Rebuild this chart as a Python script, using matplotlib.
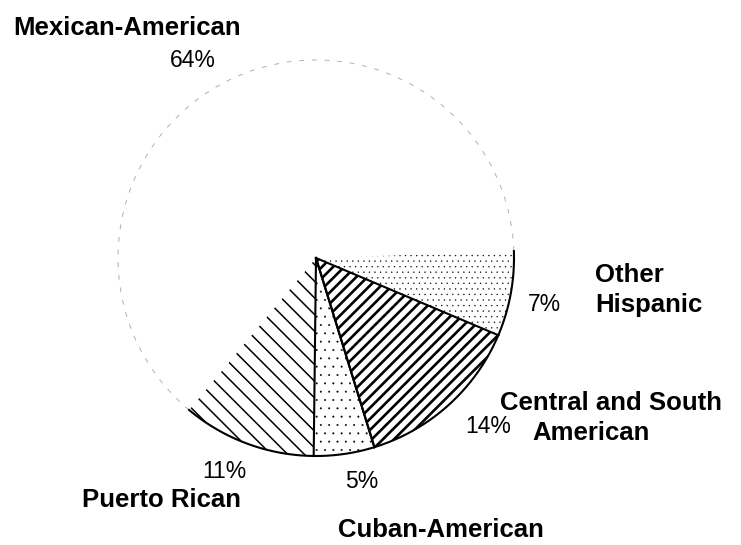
import numpy as np
import matplotlib
matplotlib.use('Agg')
import matplotlib.pyplot as plt

# ---- data (clockwise from 3 o'clock) ----
categories = ['Other Hispanic', 'Central and South American', 'Cuban-American',
              'Puerto Rican', 'Mexican-American']
shares = [7, 14, 5, 11, 64]
pct_labels = ['7%', '14%', '5%', '11%', '64%']
hatches = ['...', '///', '..', '\\\\', '']

W, H = 741, 545
fig = plt.figure(figsize=(W / 100, H / 100), dpi=100)
ax = fig.add_axes([0, 0, 1, 1])

cx, cy, R = 316, H - 258, 198
wedges, _ = ax.pie(shares, startangle=2, counterclock=False, center=(cx, cy),
                   radius=R, colors=['white'] * len(shares), hatch=hatches,
                   wedgeprops=dict(edgecolor='black', linewidth=0))

hatch_lw = [0.2, 1.9, 0.2, 1.1, 0.5]
for w, lw in zip(wedges, hatch_lw):
    try:
        w.set_hatch_linewidth(lw)
    except AttributeError:
        w._hatch_linewidth = lw


def arc(w, **kw):
    t = np.radians(np.linspace(w.theta1, w.theta2, 200))
    ax.plot(w.center[0] + w.r * np.cos(t), w.center[1] + w.r * np.sin(t), **kw)


def radial(w, ang, **kw):
    a = np.radians(ang)
    ax.plot([w.center[0], w.center[0] + w.r * np.cos(a)],
            [w.center[1], w.center[1] + w.r * np.sin(a)], **kw)


# outlines
for i, w in enumerate(wedges):
    if categories[i] == 'Mexican-American':
        arc(w, color='#b0b0b0', lw=0.7, ls=(0, (5, 8)), zorder=3)
    else:
        arc(w, color='black', lw=1.5, zorder=4)
for i in (1, 2):
    radial(wedges[i], wedges[i].theta1, color='black', lw=1.5, zorder=4)
    radial(wedges[i], wedges[i].theta2, color='black', lw=1.5, zorder=4)

ax.set_xlim(0, W)
ax.set_ylim(0, H)
ax.set_aspect('equal')
ax.axis('off')

fam = 'Liberation Sans'
bold_kw = dict(family=fam, fontweight='bold', fontsize=18.5, va='baseline', ha='left')
pct_kw = dict(family=fam, fontsize=16.5, va='baseline', ha='left')

# category names (x, baseline y in pixel coords)
ax.text(13, H - 35, 'Mexican-American', **bold_kw)
ax.text(595, H - 282, 'Other', **bold_kw)
ax.text(595, H - 312, 'Hispanic', **bold_kw)
ax.text(500, H - 410, 'Central and South', **bold_kw)
ax.text(532, H - 440, 'American', **bold_kw)
ax.text(82, H - 507, 'Puerto Rican', **bold_kw)
ax.text(338, H - 537, 'Cuban-American', **bold_kw)

# percentages
pct_pos = {'Other Hispanic': (528, 311), 'Central and South American': (465, 433),
           'Cuban-American': (345, 488), 'Puerto Rican': (202, 478),
           'Mexican-American': (170, 67)}
for cat, lab in zip(categories, pct_labels):
    x, y = pct_pos[cat]
    ax.text(x, H - y, lab, **pct_kw)

fig.savefig('out.png', dpi=100)
